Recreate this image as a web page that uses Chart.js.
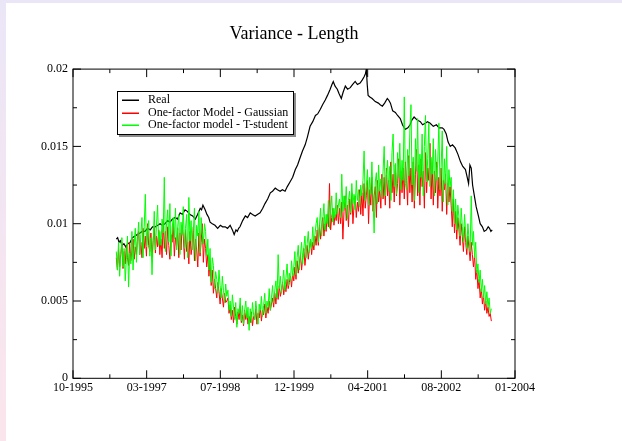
<!DOCTYPE html>
<html>
<head>
<meta charset="utf-8">
<title>Variance - Length</title>
<script src="https://cdn.jsdelivr.net/npm/chart.js@4"></script>
<style>
  html, body { margin: 0; padding: 0; }
  body {
    width: 622px; height: 441px; position: relative; overflow: hidden;
    background: linear-gradient(to bottom, #ebe6f7, #fbe5ec);
  }
  #sheet { position: absolute; left: 6px; top: 3px; right: 0; bottom: 0; background: #fff; }
  #chart-box { position: absolute; left: 0; top: 0; width: 622px; height: 441px; }
</style>
</head>
<body>
<div id="sheet"></div>
<div id="chart-box"><canvas id="variance-chart"></canvas></div>
<script>
/************************************************************/
/*              VARIANCE - LENGTH LINE CHART                */
/************************************************************/

const serif = '"Liberation Serif", "Times New Roman", serif';

/* Axis labels (x axis runs in months counted from 10-1995) */
const xTickLabels = ['10-1995', '03-1997', '07-1998', '12-1999', '04-2001', '08-2002', '01-2004'];
const yTickLabels = ['0', '0.005', '0.01', '0.015', '0.02'];

/* Series names and colours */
const seriesNames = ['Real', 'One-factor Model - Gaussian', 'One-factor model - T-student'];
const seriesColors = ['#000000', '#ff0000', '#00ff00'];

/* Real variance */
const realMonths = [
    9.7, 10.0, 10.3, 10.6, 11.0, 11.4, 11.8, 12.3, 12.8, 13.3,
    13.9, 14.4, 15.0, 15.5, 16.1, 16.7, 17.3, 17.8, 18.4, 19.0,
    19.5, 20.0, 20.6, 21.2, 21.7, 22.3, 22.9, 23.4, 24.0, 24.5,
    25.1, 25.6, 26.2, 26.8, 27.4, 27.9, 28.5, 28.8, 29.1, 29.6,
    30.0, 30.4, 30.7, 31.2, 31.8, 32.4, 33.0, 33.5, 34.1, 34.6,
    35.2, 35.7, 36.1, 36.5, 36.8, 37.1, 37.4, 38.0, 38.6, 39.1,
    39.7, 40.2, 40.8, 41.3, 41.9, 42.5, 43.0, 43.6, 44.2, 44.7,
    45.3, 45.8, 46.4, 46.9, 47.5, 48.0, 48.6, 49.2, 49.8, 50.3,
    50.9, 51.4, 52.0, 52.5, 53.1, 53.7, 54.3, 54.8, 55.4, 55.9,
    56.5, 57.0, 57.6, 58.0, 58.3, 58.7, 59.2, 59.6, 60.1, 60.5,
    61.0, 61.5, 62.1, 62.6, 63.2, 63.7, 64.3, 64.8, 65.2, 65.5,
    65.7, 65.9, 66.1, 66.5, 67.0, 67.7, 68.4, 68.8, 69.3, 69.8,
    70.4, 70.7, 71.1, 71.6, 72.2, 72.7, 73.3, 73.8, 74.4, 75.0,
    75.5, 75.9, 76.4, 77.1, 77.8, 78.3, 78.9, 79.4, 80.0, 80.7,
    81.4, 82.0, 82.7, 83.1, 83.6, 84.0, 84.5, 85.0, 85.6, 86.2,
    86.8, 87.3, 87.9, 88.3, 88.6, 88.9, 89.2, 89.5, 89.9, 90.3,
    90.8, 91.2, 91.7, 92.1, 92.6, 93.0, 93.3, 93.6, 93.9
];
const realValues = [
    0.0090, 0.0091, 0.0088, 0.0089, 0.0086, 0.0087, 0.0085, 0.0087, 0.0088, 0.0091,
    0.0092, 0.0093, 0.0094, 0.0095, 0.0095, 0.0097, 0.0096, 0.0098, 0.0098, 0.0099,
    0.0100, 0.0099, 0.0100, 0.0102, 0.0101, 0.0103, 0.0104, 0.0103, 0.0107, 0.0106,
    0.0109, 0.0108, 0.0106, 0.0105, 0.0103, 0.0106, 0.0110, 0.0109, 0.0112, 0.0109,
    0.0106, 0.0104, 0.0101, 0.0100, 0.0099, 0.0097, 0.0099, 0.0098, 0.0098, 0.0097,
    0.0099, 0.0096, 0.0093, 0.0096, 0.0095, 0.0097, 0.0098, 0.0102, 0.0105, 0.0104,
    0.0107, 0.0106, 0.0105, 0.0106, 0.0107, 0.0110, 0.0113, 0.0116, 0.0120, 0.0121,
    0.0123, 0.0122, 0.0121, 0.0122, 0.0121, 0.0124, 0.0127, 0.0130, 0.0135, 0.0138,
    0.0143, 0.0147, 0.0151, 0.0156, 0.0163, 0.0166, 0.0170, 0.0171, 0.0174, 0.0177,
    0.0180, 0.0183, 0.0187, 0.0190, 0.0192, 0.0189, 0.0187, 0.0184, 0.0181, 0.0185,
    0.0189, 0.0187, 0.0188, 0.0190, 0.0192, 0.0190, 0.0191, 0.0193, 0.0195, 0.0197,
    0.0200, 0.0190, 0.0183, 0.0182, 0.0181, 0.0179, 0.0178, 0.0177, 0.0176, 0.0178,
    0.0181, 0.0180, 0.0178, 0.0173, 0.0172, 0.0170, 0.0168, 0.0164, 0.0161, 0.0162,
    0.0164, 0.0167, 0.0169, 0.0167, 0.0166, 0.0164, 0.0165, 0.0166, 0.0165, 0.0163,
    0.0164, 0.0162, 0.0162, 0.0161, 0.0158, 0.0153, 0.0150, 0.0151, 0.0149, 0.0145,
    0.0140, 0.0137, 0.0135, 0.0130, 0.0126, 0.0138, 0.0136, 0.0125, 0.0118, 0.0111,
    0.0105, 0.0100, 0.0098, 0.0095, 0.0096, 0.0098, 0.0097, 0.0095, 0.0096
];

/* Model series are sampled every quarter month from month 9.7 */
const modelStart = 9.7;
const modelStep = 0.25;

const gaussianValues = [
    0.0078, 0.0070, 0.0084, 0.0072, 0.0080, 0.0088, 0.0071, 0.0082, 0.0074, 0.0086, 0.0078, 0.0073, 0.0088, 0.0076, 0.0083, 0.0090, 0.0077, 0.0085, 0.0080, 0.0092,
    0.0095, 0.0080, 0.0088, 0.0078, 0.0097, 0.0084, 0.0092, 0.0079, 0.0100, 0.0086, 0.0082, 0.0094, 0.0078, 0.0089, 0.0098, 0.0081, 0.0092, 0.0085, 0.0096, 0.0080,
    0.0090, 0.0078, 0.0102, 0.0084, 0.0095, 0.0080, 0.0098, 0.0086, 0.0077, 0.0093, 0.0088, 0.0100, 0.0079, 0.0091, 0.0085, 0.0097, 0.0078, 0.0094, 0.0083, 0.0099,
    0.0092, 0.0077, 0.0096, 0.0082, 0.0088, 0.0074, 0.0095, 0.0080, 0.0086, 0.0098, 0.0076, 0.0090, 0.0083, 0.0072, 0.0094, 0.0079, 0.0088, 0.0100, 0.0075, 0.0090,
    0.0084, 0.0072, 0.0080, 0.0066, 0.0076, 0.0060, 0.0070, 0.0055, 0.0064, 0.0058, 0.0052, 0.0062, 0.0056, 0.0048, 0.0058, 0.0052, 0.0046, 0.0055, 0.0049, 0.0050,
    0.0052, 0.0042, 0.0047, 0.0038, 0.0044, 0.0036, 0.0046, 0.0040, 0.0035, 0.0043, 0.0038, 0.0047, 0.0036, 0.0041, 0.0034, 0.0044, 0.0038, 0.0042, 0.0035, 0.0040,
    0.0036, 0.0043, 0.0034, 0.0040, 0.0038, 0.0045, 0.0035, 0.0042, 0.0039, 0.0046, 0.0037, 0.0044, 0.0041, 0.0048, 0.0039, 0.0046, 0.0042, 0.0050, 0.0044, 0.0048,
    0.0052, 0.0046, 0.0055, 0.0048, 0.0058, 0.0051, 0.0060, 0.0053, 0.0057, 0.0062, 0.0054, 0.0060, 0.0056, 0.0064, 0.0058, 0.0062, 0.0066, 0.0059, 0.0068, 0.0063,
    0.0072, 0.0064, 0.0076, 0.0068, 0.0074, 0.0080, 0.0070, 0.0078, 0.0084, 0.0073, 0.0080, 0.0086, 0.0077, 0.0084, 0.0090, 0.0080, 0.0088, 0.0083, 0.0092, 0.0086,
    0.0096, 0.0086, 0.0100, 0.0090, 0.0098, 0.0104, 0.0092, 0.0100, 0.0095, 0.0106, 0.0098, 0.0126, 0.0096, 0.0104, 0.0110, 0.0099, 0.0106, 0.0102, 0.0112, 0.0100,
    0.0110, 0.0100, 0.0114, 0.0090, 0.0108, 0.0118, 0.0102, 0.0112, 0.0098, 0.0116, 0.0106, 0.0120, 0.0100, 0.0112, 0.0118, 0.0104, 0.0114, 0.0108, 0.0122, 0.0106,
    0.0120, 0.0105, 0.0126, 0.0110, 0.0118, 0.0128, 0.0100, 0.0122, 0.0112, 0.0130, 0.0108, 0.0118, 0.0124, 0.0104, 0.0128, 0.0114, 0.0122, 0.0110, 0.0132, 0.0116,
    0.0130, 0.0112, 0.0136, 0.0118, 0.0128, 0.0110, 0.0140, 0.0120, 0.0132, 0.0114, 0.0138, 0.0118, 0.0126, 0.0142, 0.0112, 0.0134, 0.0120, 0.0136, 0.0116, 0.0140,
    0.0128, 0.0112, 0.0144, 0.0120, 0.0136, 0.0114, 0.0140, 0.0110, 0.0132, 0.0148, 0.0118, 0.0138, 0.0112, 0.0142, 0.0124, 0.0134, 0.0110, 0.0146, 0.0120, 0.0136,
    0.0128, 0.0152, 0.0116, 0.0138, 0.0112, 0.0134, 0.0120, 0.0140, 0.0110, 0.0130, 0.0118, 0.0136, 0.0108, 0.0128, 0.0122, 0.0132, 0.0106, 0.0126, 0.0114, 0.0124,
    0.0112, 0.0098, 0.0116, 0.0094, 0.0108, 0.0090, 0.0104, 0.0096, 0.0086, 0.0100, 0.0092, 0.0082, 0.0098, 0.0088, 0.0080, 0.0092, 0.0084, 0.0076, 0.0088, 0.0080,
    0.0072, 0.0080, 0.0064, 0.0070, 0.0058, 0.0064, 0.0052, 0.0058, 0.0048, 0.0054, 0.0044, 0.0050, 0.0042, 0.0046, 0.0040, 0.0042, 0.0037
];

const tStudentValues = [
    0.0082, 0.0070, 0.0088, 0.0066, 0.0079, 0.0091, 0.0072, 0.0084, 0.0063, 0.0077, 0.0092, 0.0059, 0.0081, 0.0074, 0.0095, 0.0070, 0.0086, 0.0097, 0.0075, 0.0089,
    0.0101, 0.0080, 0.0093, 0.0104, 0.0078, 0.0098, 0.0119, 0.0085, 0.0096, 0.0102, 0.0079, 0.0091, 0.0067, 0.0088, 0.0108, 0.0083, 0.0099, 0.0112, 0.0086, 0.0095,
    0.0086, 0.0103, 0.0094, 0.0130, 0.0082, 0.0100, 0.0109, 0.0088, 0.0113, 0.0079, 0.0097, 0.0104, 0.0090, 0.0110, 0.0083, 0.0098, 0.0106, 0.0080, 0.0101, 0.0093,
    0.0111, 0.0084, 0.0097, 0.0106, 0.0078, 0.0117, 0.0089, 0.0102, 0.0083, 0.0095, 0.0110, 0.0076, 0.0099, 0.0092, 0.0108, 0.0081, 0.0104, 0.0094, 0.0087, 0.0100,
    0.0095, 0.0079, 0.0090, 0.0070, 0.0084, 0.0062, 0.0078, 0.0073, 0.0058, 0.0069, 0.0064, 0.0055, 0.0070, 0.0060, 0.0052, 0.0066, 0.0057, 0.0049, 0.0061, 0.0053,
    0.0057, 0.0044, 0.0050, 0.0040, 0.0054, 0.0046, 0.0038, 0.0049, 0.0033, 0.0045, 0.0042, 0.0052, 0.0037, 0.0047, 0.0035, 0.0044, 0.0050, 0.0039, 0.0046, 0.0031,
    0.0045, 0.0036, 0.0049, 0.0041, 0.0038, 0.0050, 0.0043, 0.0035, 0.0048, 0.0044, 0.0053, 0.0040, 0.0047, 0.0055, 0.0042, 0.0050, 0.0046, 0.0058, 0.0044, 0.0052,
    0.0060, 0.0049, 0.0057, 0.0063, 0.0052, 0.0080, 0.0058, 0.0066, 0.0055, 0.0062, 0.0070, 0.0057, 0.0065, 0.0074, 0.0060, 0.0068, 0.0063, 0.0076, 0.0066, 0.0072,
    0.0082, 0.0067, 0.0078, 0.0086, 0.0070, 0.0080, 0.0088, 0.0074, 0.0084, 0.0092, 0.0078, 0.0087, 0.0095, 0.0081, 0.0090, 0.0084, 0.0098, 0.0086, 0.0093, 0.0100,
    0.0104, 0.0088, 0.0099, 0.0110, 0.0092, 0.0102, 0.0113, 0.0096, 0.0106, 0.0100, 0.0115, 0.0097, 0.0108, 0.0118, 0.0101, 0.0110, 0.0104, 0.0120, 0.0106, 0.0112,
    0.0116, 0.0104, 0.0132, 0.0108, 0.0118, 0.0110, 0.0124, 0.0103, 0.0115, 0.0121, 0.0107, 0.0126, 0.0113, 0.0119, 0.0109, 0.0128, 0.0115, 0.0122, 0.0111, 0.0125,
    0.0118, 0.0128, 0.0147, 0.0115, 0.0124, 0.0135, 0.0112, 0.0130, 0.0119, 0.0140, 0.0116, 0.0094, 0.0127, 0.0133, 0.0113, 0.0138, 0.0121, 0.0129, 0.0117, 0.0134,
    0.0150, 0.0118, 0.0131, 0.0141, 0.0121, 0.0137, 0.0115, 0.0146, 0.0158, 0.0124, 0.0139, 0.0119, 0.0146, 0.0130, 0.0152, 0.0122, 0.0141, 0.0128, 0.0182, 0.0126,
    0.0122, 0.0148, 0.0131, 0.0160, 0.0177, 0.0125, 0.0143, 0.0115, 0.0155, 0.0134, 0.0168, 0.0120, 0.0145, 0.0130, 0.0158, 0.0118, 0.0150, 0.0170, 0.0127, 0.0142,
    0.0165, 0.0124, 0.0143, 0.0132, 0.0155, 0.0118, 0.0148, 0.0128, 0.0140, 0.0165, 0.0122, 0.0136, 0.0160, 0.0114, 0.0142, 0.0126, 0.0150, 0.0112, 0.0135, 0.0124,
    0.0130, 0.0108, 0.0122, 0.0100, 0.0116, 0.0096, 0.0112, 0.0104, 0.0092, 0.0110, 0.0098, 0.0088, 0.0106, 0.0094, 0.0084, 0.0100, 0.0090, 0.0082, 0.0118, 0.0086,
    0.0095, 0.0078, 0.0088, 0.0068, 0.0074, 0.0062, 0.0070, 0.0056, 0.0064, 0.0052, 0.0060, 0.0048, 0.0056, 0.0046, 0.0052, 0.0042, 0.0045
];

/* Build {x, y} points */
function pairPoints(xs, ys) {
    return ys.map((y, i) => ({x: xs[i], y: y}));
}

function stepPoints(start, step, ys) {
    return ys.map((y, i) => ({x: start + i * step, y: y}));
}

/* Closed frame with inward major and minor ticks */
const frameTicks = {
    id: 'frameTicks',
    afterDatasetsDraw(chart) {
        const {ctx, chartArea: a, scales} = chart;
        const major = 8, minor = 4;
        ctx.save();
        ctx.strokeStyle = '#000';
        ctx.lineWidth = 1;
        ctx.strokeRect(a.left, a.top, a.right - a.left, a.bottom - a.top);
        ctx.beginPath();

        const xv = scales.x.ticks.map(t => t.value);
        xv.forEach((v, i) => {
            const px = scales.x.getPixelForValue(v);
            ctx.moveTo(px, a.bottom); ctx.lineTo(px, a.bottom - major);
            ctx.moveTo(px, a.top); ctx.lineTo(px, a.top + major);
            if (i < xv.length - 1) {
                const mx = scales.x.getPixelForValue((v + xv[i + 1]) / 2);
                ctx.moveTo(mx, a.bottom); ctx.lineTo(mx, a.bottom - minor);
                ctx.moveTo(mx, a.top); ctx.lineTo(mx, a.top + minor);
            }
        });

        const yv = scales.y.ticks.map(t => t.value);
        yv.forEach((v, i) => {
            const py = scales.y.getPixelForValue(v);
            ctx.moveTo(a.left, py); ctx.lineTo(a.left + major, py);
            ctx.moveTo(a.right, py); ctx.lineTo(a.right - major, py);
            if (i < yv.length - 1) {
                const my = scales.y.getPixelForValue((v + yv[i + 1]) / 2);
                ctx.moveTo(a.left, my); ctx.lineTo(a.left + minor, my);
                ctx.moveTo(a.right, my); ctx.lineTo(a.right - minor, my);
            }
        });
        ctx.stroke();
        ctx.restore();
    }
};

/* Boxed legend inside the plot area */
const legendBox = {
    id: 'legendBox',
    afterDraw(chart) {
        const {ctx, chartArea: a} = chart;
        const x = Math.round(a.left + 44), y = Math.round(a.top + 22);
        ctx.save();
        ctx.font = '12px ' + serif;
        const textW = Math.max(...seriesNames.map(n => ctx.measureText(n).width));
        const w = Math.round(31 + textW + 5), h = 43;

        ctx.fillStyle = '#8c8c8c';
        ctx.fillRect(x + 2, y + 2, w + 1, h + 1);
        ctx.fillStyle = '#ffffff';
        ctx.fillRect(x, y, w, h);
        ctx.strokeStyle = '#000000';
        ctx.lineWidth = 1;
        ctx.strokeRect(x + 0.5, y + 0.5, w, h);

        ctx.textBaseline = 'middle';
        seriesNames.forEach((name, i) => {
            const ly = Math.round(y + 9 + i * 12.7);
            ctx.fillStyle = seriesColors[i];
            ctx.fillRect(x + 5, ly - 0.5, 17, 1.5);
            ctx.fillStyle = '#000000';
            ctx.fillText(name, x + 31, ly);
        });
        ctx.restore();
    }
};

/* Init the chart */
function initVarianceChart() {
    const ctx = document.getElementById('variance-chart');
    return new Chart(ctx, {
        type: 'line',
        data: {
            datasets: [{
                label: seriesNames[0],
                data: pairPoints(realMonths, realValues),
                borderColor: seriesColors[0],
                borderWidth: 1.2,
                order: 3
            }, {
                label: seriesNames[1],
                data: stepPoints(modelStart, modelStep, gaussianValues),
                borderColor: seriesColors[1],
                order: 2
            }, {
                label: seriesNames[2],
                data: stepPoints(modelStart, modelStep, tStudentValues),
                borderColor: seriesColors[2],
                order: 1
            }]
        },
        options: {
            responsive: true,
            maintainAspectRatio: false,
            animation: false,
            events: [],
            elements: {
                point: { radius: 0 },
                line: { borderWidth: 1, tension: 0 }
            },
            layout: { padding: { left: 0, right: 107, top: 0, bottom: 0 } },
            plugins: {
                legend: { display: false },
                tooltip: { enabled: false },
                title: {
                    display: true,
                    fullSize: false,
                    text: 'Variance - Length',
                    color: '#000',
                    font: { family: serif, size: 18, weight: 'normal', lineHeight: 1.2 },
                    padding: { top: 23, bottom: 24.5 }
                }
            },
            scales: {
                x: {
                    type: 'linear',
                    min: 0,
                    max: 99,
                    afterFit: (s) => { s.height = 62.7; },
                    grid: { display: false, drawTicks: false, tickLength: 0 },
                    border: { display: false },
                    ticks: {
                        stepSize: 16.5,
                        autoSkip: false,
                        maxRotation: 0,
                        padding: 2,
                        color: '#000',
                        font: { family: serif, size: 12 },
                        callback: (v, i) => xTickLabels[i]
                    }
                },
                y: {
                    type: 'linear',
                    min: 0,
                    max: 0.02,
                    afterFit: (s) => { s.width = 73; },
                    grid: { display: false, drawTicks: false, tickLength: 0 },
                    border: { display: false },
                    ticks: {
                        stepSize: 0.005,
                        padding: 5,
                        color: '#000',
                        font: { family: serif, size: 12 },
                        callback: (v, i) => yTickLabels[i]
                    }
                }
            }
        },
        plugins: [frameTicks, legendBox]
    });
}

const varianceChart = initVarianceChart();
</script>
</body>
</html>
